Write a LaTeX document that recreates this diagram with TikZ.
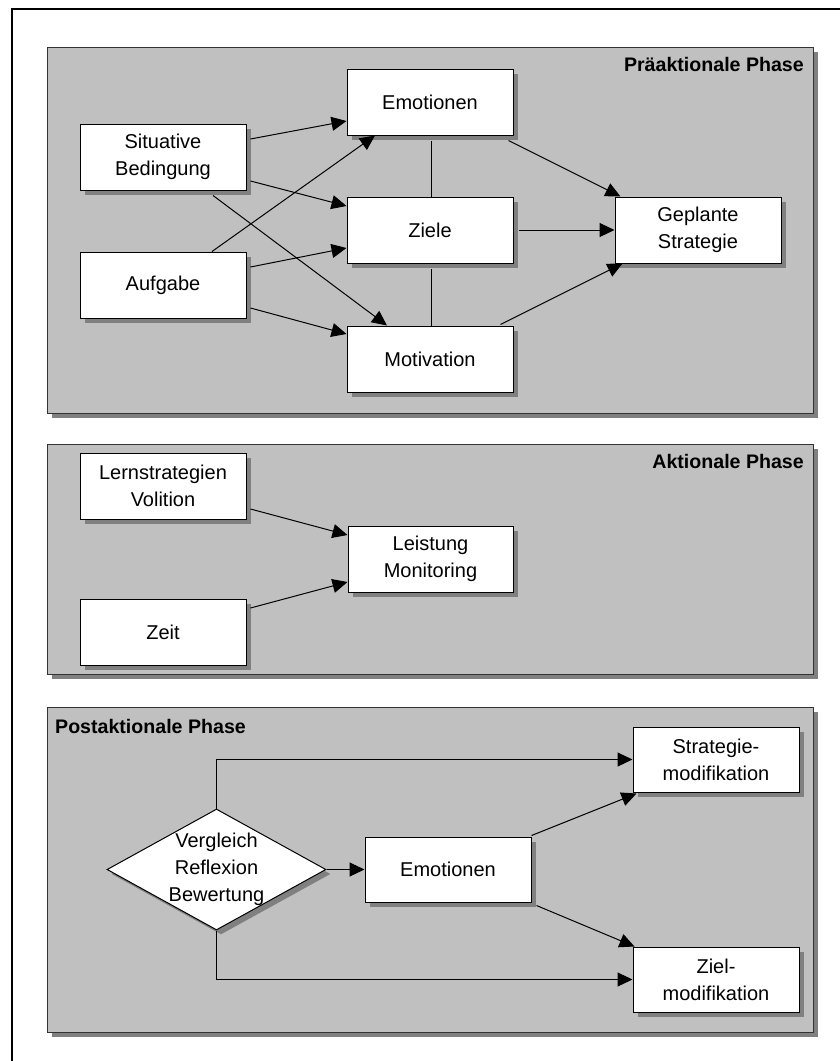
\documentclass[tikz,border=0pt]{standalone}
\usepackage{fontspec}
\setmainfont{Liberation Sans}
\usetikzlibrary{arrows.meta,shapes.geometric,shadows,calc}

\definecolor{panelgray}{HTML}{C0C0C0}
\definecolor{shadowgray}{HTML}{808080}
\definecolor{panelline}{HTML}{333333}

\newcommand\boxfont{\fontsize{20}{26.7}\selectfont}
\newcommand\titlefont{\fontsize{19.6}{24}\selectfont\bfseries}

\tikzset{
  shade off/.style={drop shadow={shadow xshift=#1, shadow yshift=-#1,
      fill=shadowgray, opacity=1}},
  panel/.style={draw=panelline, fill=panelgray, line width=1pt,
      inner sep=0pt, shade off=5pt},
  box/.style={draw=black, fill=white, line width=1pt, inner sep=0pt,
      minimum width=166pt, minimum height=66pt, align=center,
      font=\boxfont, shade off=4.5pt},
  dia/.style={diamond, draw=black, fill=white, line width=1pt,
      inner sep=0pt, minimum width=219pt, minimum height=121pt,
      shade off=4.5pt},
  label text/.style={font=\boxfont, align=center, inner sep=0pt},
  phase/.style={font=\titlefont, inner sep=0pt},
  arr/.style={line width=1pt, -{Triangle[length=15pt,width=14pt]}},
  link/.style={line width=1pt}
}

\begin{document}
\begin{tikzpicture}[x=1pt, y=-1pt]
\useasboundingbox (0,0) rectangle (840,1061);
\clip (0,0) rectangle (840,1061);

% outer frame
\draw[line width=2pt] (12,9) rectangle (870,1090);

% phase panels
\node[panel, minimum width=766pt, minimum height=366pt] (p1) at (430,230) {};
\node[panel, minimum width=766pt, minimum height=230pt] (p2) at (430,559) {};
\node[panel, minimum width=766pt, minimum height=325pt] (p3) at (430,869.5) {};

\node[phase, anchor=base east] (t1) at (804,71) {Präaktionale Phase};
\node[phase, anchor=base east] (t2) at (804,468) {Aktionale Phase};
\node[phase, anchor=base west] (t3) at (55,733) {Postaktionale Phase};

% preactional phase
\node[box] (sb)    at (163,157) {Situative\\Bedingung};
\node[box] (auf)   at (163,285) {Aufgabe};
\node[box] (emo)   at (430,102) {Emotionen};
\node[box] (ziele) at (430,230) {Ziele};
\node[box] (mot)   at (430,359) {Motivation};
\node[box] (gs)    at (698,230) {Geplante\\Strategie};

\draw[arr] ($(sb.east)+(4,-18)$) -- ($(emo.west)+(0,19)$);
\draw[arr] ($(sb.east)+(4,24)$) -- ($(ziele.west)+(0,-24)$);
\draw[arr] ($(sb.south)+(50,5)$) -- ($(mot.north)+(-43,0)$);
\draw[arr] ($(auf.north)+(49,0)$) -- ($(emo.south)+(-55,0)$);
\draw[arr] ($(auf.east)+(4,-18)$) -- ($(ziele.west)+(0,18)$);
\draw[arr] ($(auf.east)+(4,23)$) -- ($(mot.west)+(0,-25)$);
\draw[link] ($(emo.south)+(1,5)$) -- ($(ziele.north)+(1,0)$);
\draw[link] ($(ziele.south)+(1,5)$) -- ($(mot.north)+(1,0)$);
\draw[arr] ($(emo.south east)+(-5,5)$) -- ($(gs.north west)+(6,0)$);
\draw[arr] ($(ziele.east)+(5,0)$) -- (gs.west);
\draw[arr] ($(mot.north east)+(-13,-1)$) -- ($(gs.south west)+(8,0)$);

% actional phase
\node[box] (lv)   at (163,486) {Lernstrategien\\Volition};
\node[box] (zeit) at (163,632) {Zeit};
\node[box, minimum width=165pt] (lm) at (430.5,559) {Leistung\\Monitoring};

\draw[arr] ($(lv.east)+(4,23)$) -- ($(lm.west)+(0,-24)$);
\draw[arr] ($(zeit.east)+(4,-24)$) -- ($(lm.west)+(0,23)$);

% postactional phase
\node[dia] (vrb) at (216.5,869.5) {};
\node[label text] (vrbtxt) at (vrb.center) {Vergleich\\Reflexion\\Bewertung};
\node[box, minimum height=65pt] (emo2) at (448,869.5) {Emotionen};
\node[box, minimum height=65pt] (sm)   at (716,759.5) {Strategie-\\modifikation};
\node[box, minimum height=65pt] (zm)   at (716,979.5) {Ziel-\\modifikation};

\draw[arr] (vrb.north) |- (sm.west);
\draw[arr] (vrb.south) |- (zm.west);
\draw[arr] (vrb.east) -- (emo2.west);
\draw[arr] ($(emo2.north east)+(0,-1)$) -- ($(sm.south west)+(4,1)$);
\draw[arr] ($(emo2.south east)+(5,3)$) -- ($(zm.north west)+(2,0)$);
\end{tikzpicture}
\end{document}
